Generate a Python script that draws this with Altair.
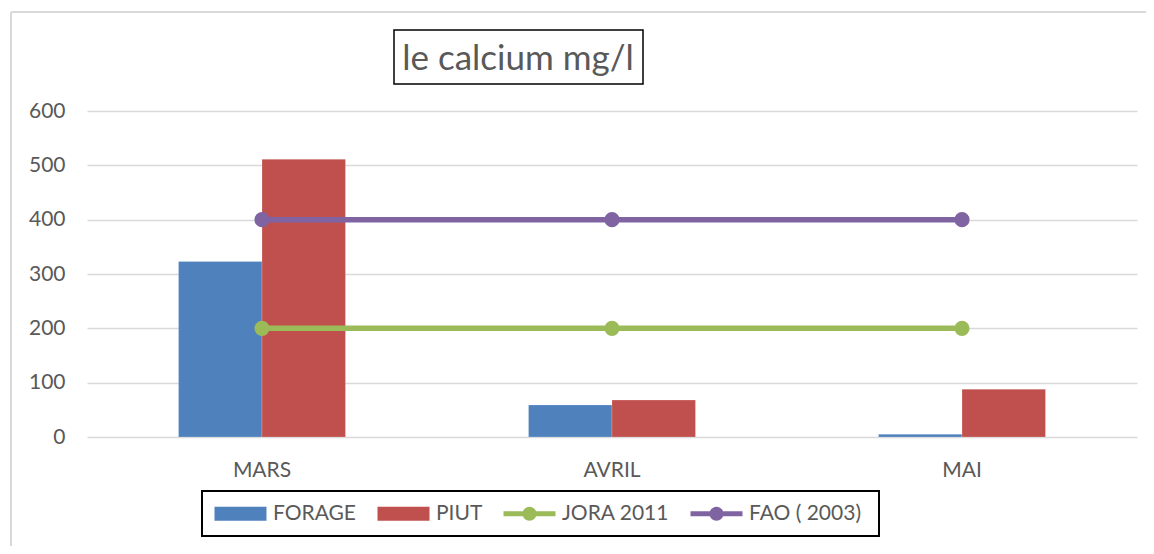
import altair as alt
import pandas as pd

months = ["MARS", "AVRIL", "MAI"]
forage = [323, 59, 5]
piut = [511, 68, 88]
jora = [200, 200, 200]
fao = [400, 400, 400]
series_names = ["FORAGE", "PIUT", "JORA 2011", "FAO  ( 2003)"]
series_colors = ["#4F81BD", "#C0504D", "#9BBB59", "#8064A2"]
y_ticks = [0, 100, 200, 300, 400, 500, 600]
title_text = "le calcium mg/l"

bars_df = pd.DataFrame(
    [{"mois": m, "serie": "FORAGE", "val": v} for m, v in zip(months, forage)]
    + [{"mois": m, "serie": "PIUT", "val": v} for m, v in zip(months, piut)]
)
lines_df = pd.DataFrame(
    [{"mois": m, "serie": "JORA 2011", "val": v} for m, v in zip(months, jora)]
    + [{"mois": m, "serie": "FAO  ( 2003)", "val": v} for m, v in zip(months, fao)]
)

FONT = "Lato"
GREY = "#595959"

# legend symbols (drawn at size 400 -> 1 unit = 10 px)
bar_path = "M-2.6,-0.7 L2.6,-0.7 L2.6,0.7 L-2.6,0.7 Z"
line_path = ("M-2.6,-0.25 L2.6,-0.25 L2.6,0.25 L-2.6,0.25 Z "
             "M-0.7,0 A0.7,0.7 0 1,1 0.7,0 A0.7,0.7 0 1,1 -0.7,0 Z")

x_enc = alt.X("mois:N", sort=months,
              scale=alt.Scale(paddingInner=0.523, paddingOuter=0.2615),
              axis=alt.Axis(title=None, labelAngle=0, ticks=False, domain=False,
                            labelPadding=22, labelFontSize=21, labelColor=GREY,
                            labelFont=FONT, grid=False))
y_enc = alt.Y("val:Q", scale=alt.Scale(domain=[0, 600], nice=False),
              axis=alt.Axis(title=None, values=y_ticks, ticks=False, domain=False,
                            labelPadding=22, labelFontSize=21, labelColor=GREY,
                            labelFont=FONT, grid=True, gridColor="#D9D9D9",
                            gridWidth=1.5))
# colour scale for the marks (domain listed in reverse so it is not merged
# with the legend's scale)
color_scale = alt.Scale(domain=series_names[::-1], range=series_colors[::-1])

bars = alt.Chart(bars_df).mark_bar(stroke="white", strokeWidth=0.5, strokeOpacity=0.4).encode(
    x=x_enc,
    xOffset=alt.XOffset("serie:N", sort=["FORAGE", "PIUT"],
                        scale=alt.Scale(paddingInner=0, paddingOuter=0)),
    y=y_enc,
    color=alt.Color("serie:N", scale=color_scale, legend=None),
)

lines = alt.Chart(lines_df).mark_line(strokeWidth=5.5).encode(
    x=alt.X("mois:N", sort=months),
    y="val:Q",
    color=alt.Color("serie:N", scale=color_scale, legend=None),
)

points = alt.Chart(lines_df).mark_point(filled=True, size=230, opacity=1, shape="circle").encode(
    x=alt.X("mois:N", sort=months),
    y="val:Q",
    color=alt.Color("serie:N", scale=color_scale, legend=None),
)

legend_def = alt.Legend(title=None, orient="none", direction="horizontal",
                        legendX=115, legendY=380, symbolSize=400,
                        symbolOffset=16, labelOffset=22)
legend_layer = alt.Chart(lines_df).transform_filter("false").mark_point(
    filled=True, opacity=1, size=400).encode(
    x=alt.X("mois:N", sort=months),
    y="val:Q",
    fill=alt.Fill("serie:N", scale=alt.Scale(domain=series_names, range=series_colors),
                  legend=legend_def),
    shape=alt.Shape("serie:N",
                    scale=alt.Scale(domain=series_names,
                                    range=[bar_path, bar_path, line_path, line_path]),
                    legend=legend_def),
)

title_box = alt.Chart(pd.DataFrame({"t": [title_text]})).mark_rect(
    fill="white", stroke="black", strokeWidth=1.5).encode(
    x=alt.value(307), x2=alt.value(556), y=alt.value(-81), y2=alt.value(-27))

title_txt = alt.Chart(pd.DataFrame({"t": [title_text]})).mark_text(
    font=FONT, fontSize=35, color=GREY, align="center", baseline="alphabetic").encode(
    text="t:N", x=alt.value(431), y=alt.value(-41))

frame_top = alt.Chart(pd.DataFrame({"t": [0]})).mark_rule(
    color="#D9D9D9", strokeWidth=2).encode(
    x=alt.value(-76), x2=alt.value(1059), y=alt.value(-99))
frame_left = alt.Chart(pd.DataFrame({"t": [0]})).mark_rule(
    color="#D9D9D9", strokeWidth=2).encode(
    x=alt.value(-76), y=alt.value(-99), y2=alt.value(435))

chart = alt.layer(frame_top, frame_left, bars, lines, points, legend_layer,
                  title_box, title_txt).properties(
    width=1050, height=326,
    autosize=alt.AutoSizeParams(type="none"),
    padding={"left": 79, "top": 103, "right": 9, "bottom": 109},
).configure_view(stroke=None).configure_legend(
    strokeColor="black", strokeWidth=2, padding=12,
    labelFont=FONT, labelFontSize=21, labelColor=GREY,
    columnPadding=20, symbolStrokeWidth=0,
    symbolOpacity=1,
)

chart.save("out.html", embed_options={"renderer": "svg", "actions": False})
